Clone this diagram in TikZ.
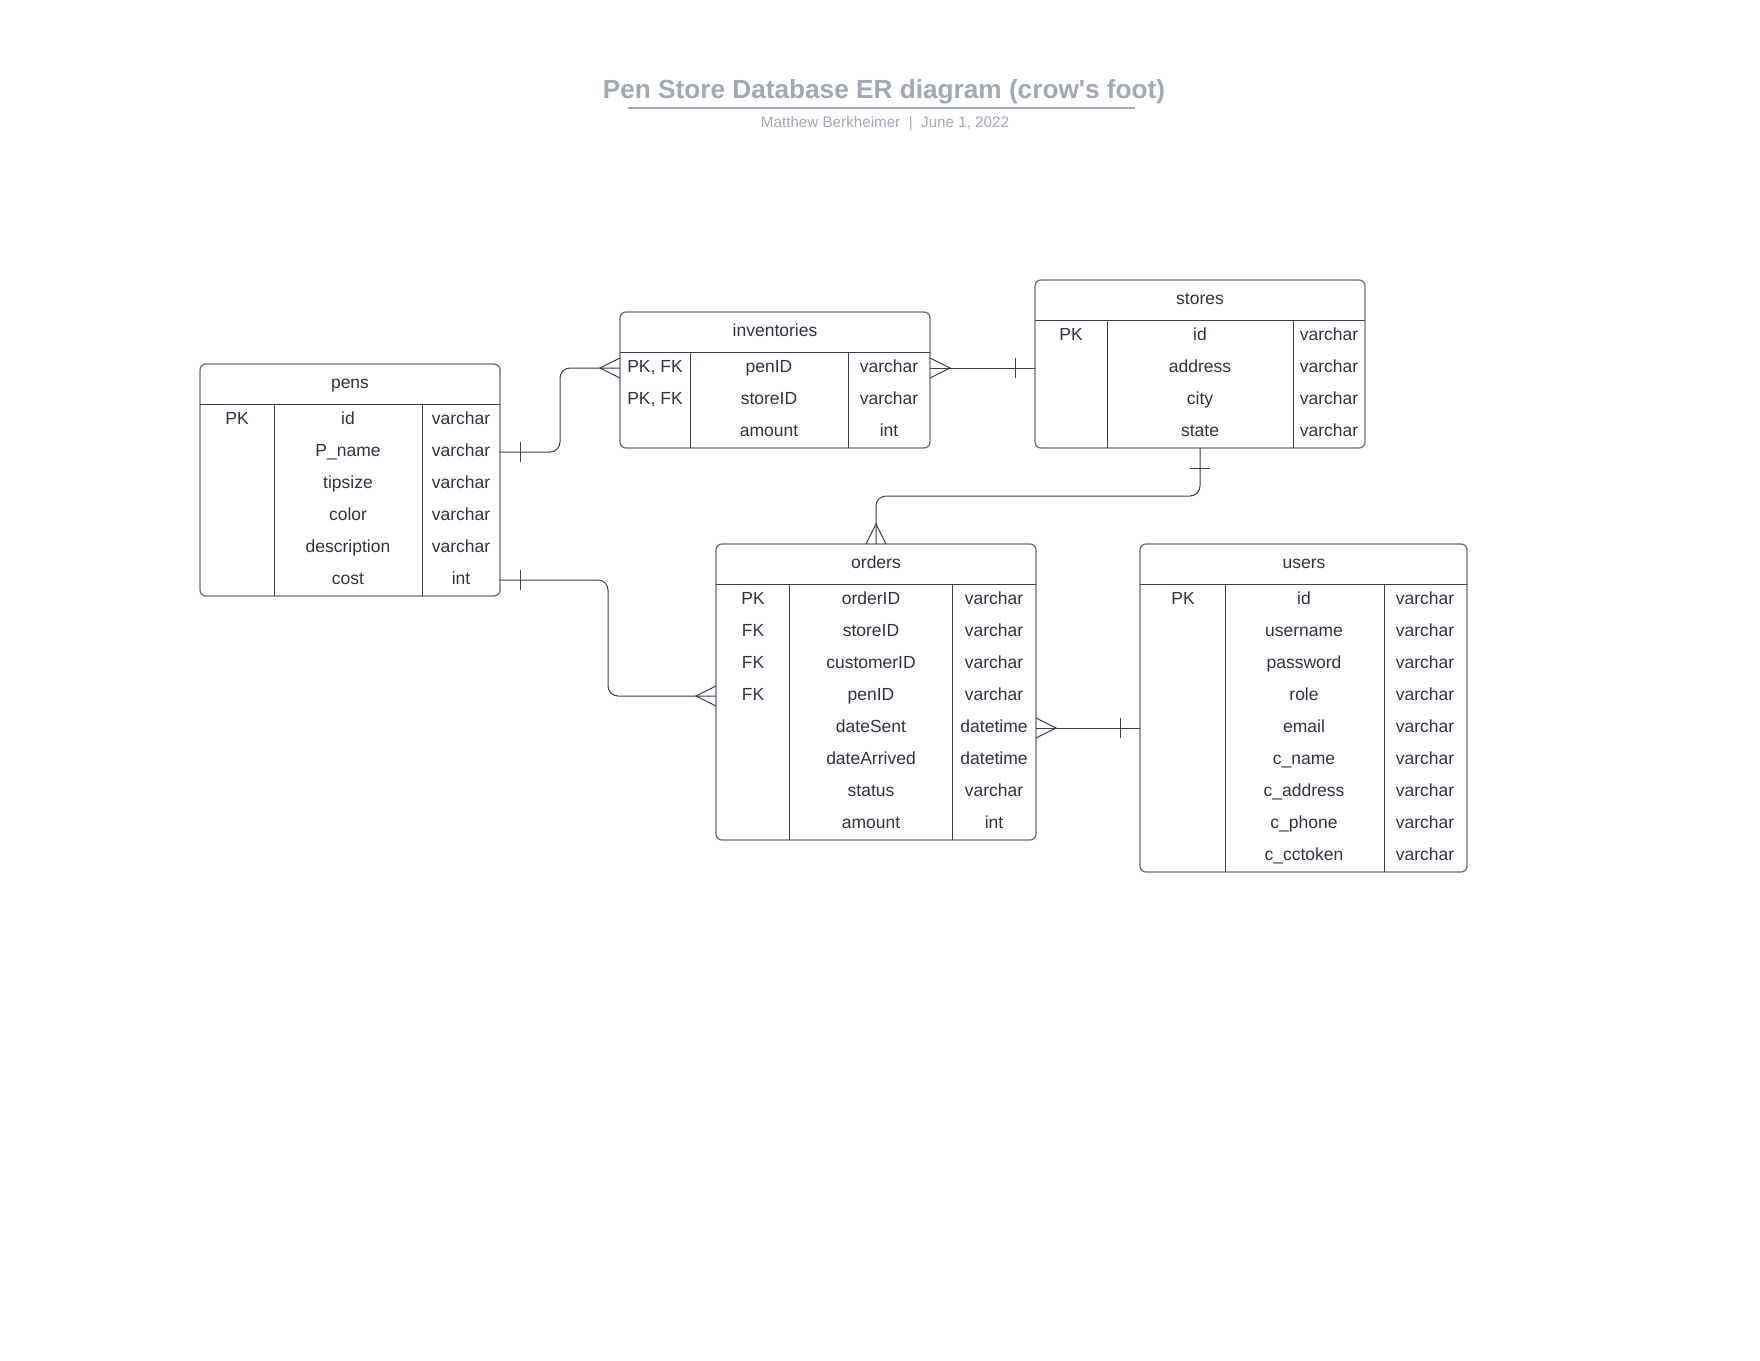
\documentclass[tikz,border=0pt]{standalone}
\usepackage{fontspec}
\setmainfont{Liberation Sans}
\usetikzlibrary{positioning}

\tikzset{
  frame/.style={draw=erframe, line width=1.3pt, rounded corners=6pt, inner sep=0pt, outer sep=0pt},
  rule/.style={draw=erline, line width=1pt},
  link/.style={draw=erline, line width=1pt, rounded corners=10pt},
  cell/.style={text=ertext, font=\fontsize{17.5}{20}\selectfont, inner sep=0pt,
    minimum height=32pt, text height=12.5pt, text depth=3.5pt},
  crow/.pic={\draw[rule] (0,-10) -- (20,0) -- (0,10);},
  bar/.pic={\draw[rule] (20,-10) -- (20,10);}
}

\begin{document}
\begin{tikzpicture}[x=1pt,y=-1pt]

    \definecolor{erline}{HTML}{3A414A}
    \definecolor{erframe}{HTML}{6B7079}
    \definecolor{ertext}{HTML}{2F3540}
    \definecolor{ertitle}{HTML}{A3A9B2}

    % page size
    \fill[white] (0,0) rectangle (1760,1360);
    \useasboundingbox (0,0) rectangle (1760,1360);

    %title
    \node[text=ertitle, font=\fontsize{26.2}{30}\bfseries\selectfont] (title) at (884,92)
    {Pen Store Database ER diagram (crow\textquotesingle s foot)};
    \draw[ertitle, line width=2pt] (628,108) -- (1135,108);
    \node[text=ertitle, font=\fontsize{15.2}{18}\selectfont] (subtitle) at (885,124)
    {Matthew Berkheimer~~|~~June 1, 2022};

    %pens
    \node[frame, minimum width=300pt, minimum height=232pt] (pens) at (350,480) {};
    \node[cell] (pens-head) at (350,384) {pens};
    \draw[rule] (200,404) -- (500,404) (274,404) -- (274,596) (422,404) -- (422,596);
    \foreach \k/\n/\t [count=\i] in {PK/id/varchar, /P\_name/varchar, /tipsize/varchar,
      /color/varchar, /description/varchar, /cost/int} {
      \node[cell] (pens-\i-key) at (237,{388+32*\i}) {\k};
      \node[cell] (pens-\i) at (348,{388+32*\i}) {\n};
      \node[cell] (pens-\i-type) at (461,{388+32*\i}) {\t};
    }

    %inventories
    \node[frame, minimum width=310pt, minimum height=136pt] (inv) at (775,380) {};
    \node[cell] (inv-head) at (775,332) {inventories};
    \draw[rule] (620,352) -- (930,352) (690,352) -- (690,448) (848,352) -- (848,448);
    \foreach \k/\n/\t [count=\i] in {{PK, FK}/penID/varchar, {PK, FK}/storeID/varchar,
      /amount/int} {
      \node[cell] (inv-\i-key) at (655,{336+32*\i}) {\k};
      \node[cell] (inv-\i) at (769,{336+32*\i}) {\n};
      \node[cell] (inv-\i-type) at (889,{336+32*\i}) {\t};
    }

    %stores
    \node[frame, minimum width=330pt, minimum height=168pt] (stores) at (1200,364) {};
    \node[cell] (stores-head) at (1200,300) {stores};
    \draw[rule] (1035,320) -- (1365,320) (1107,320) -- (1107,448) (1293,320) -- (1293,448);
    \foreach \k/\n/\t [count=\i] in {PK/id/varchar, /address/varchar, /city/varchar,
      /state/varchar} {
      \node[cell] (stores-\i-key) at (1071,{304+32*\i}) {\k};
      \node[cell] (stores-\i) at (1200,{304+32*\i}) {\n};
      \node[cell] (stores-\i-type) at (1329,{304+32*\i}) {\t};
    }

    %orders
    \node[frame, minimum width=320pt, minimum height=296pt] (orders) at (876,692) {};
    \node[cell] (orders-head) at (876,564) {orders};
    \draw[rule] (716,584) -- (1036,584) (789,584) -- (789,840) (952,584) -- (952,840);
    \foreach \k/\n/\t [count=\i] in {PK/orderID/varchar, FK/storeID/varchar,
      FK/customerID/varchar, FK/penID/varchar, /dateSent/datetime, /dateArrived/datetime,
      /status/varchar, /amount/int} {
      \node[cell] (orders-\i-key) at (753,{568+32*\i}) {\k};
      \node[cell] (orders-\i) at (871,{568+32*\i}) {\n};
      \node[cell] (orders-\i-type) at (994,{568+32*\i}) {\t};
    }

    %users
    \node[frame, minimum width=327pt, minimum height=328pt] (users) at (1303.5,708) {};
    \node[cell] (users-head) at (1304,564) {users};
    \draw[rule] (1140,584) -- (1467,584) (1225,584) -- (1225,872) (1384,584) -- (1384,872);
    \foreach \k/\n/\t [count=\i] in {PK/id/varchar, /username/varchar, /password/varchar,
      /role/varchar, /email/varchar, /c\_name/varchar, /c\_address/varchar,
      /c\_phone/varchar, /c\_cctoken/varchar} {
      \node[cell] (users-\i-key) at (1183,{568+32*\i}) {\k};
      \node[cell] (users-\i) at (1304,{568+32*\i}) {\n};
      \node[cell] (users-\i-type) at (1425,{568+32*\i}) {\t};
    }

    %relations
    \draw[link] (pens.east |- pens-2) -- ++(60,0) |- (inv.west |- inv-1);
    \pic at (pens.east |- pens-2) {bar};
    \pic[rotate=180] at (inv.west |- inv-1) {crow};

    \draw[link] (inv.east |- inv-1) -- (stores.west |- inv-1);
    \pic at (inv.east |- inv-1) {crow};
    \pic[rotate=180] at (stores.west |- inv-1) {bar};

    \draw[link] (stores.south) -- ++(0,48) -| (orders.north);
    \pic[rotate=-90] at (stores.south) {bar};
    \pic[rotate=90] at (orders.north) {crow};

    \draw[link] (pens.east |- pens-6) -- ++(108,0) |- (orders.west |- orders-4);
    \pic at (pens.east |- pens-6) {bar};
    \pic[rotate=180] at (orders.west |- orders-4) {crow};

    \draw[link] (orders.east |- orders-5) -- (users.west |- orders-5);
    \pic at (orders.east |- orders-5) {crow};
    \pic[rotate=180] at (users.west |- orders-5) {bar};

\end{tikzpicture}
\end{document}
